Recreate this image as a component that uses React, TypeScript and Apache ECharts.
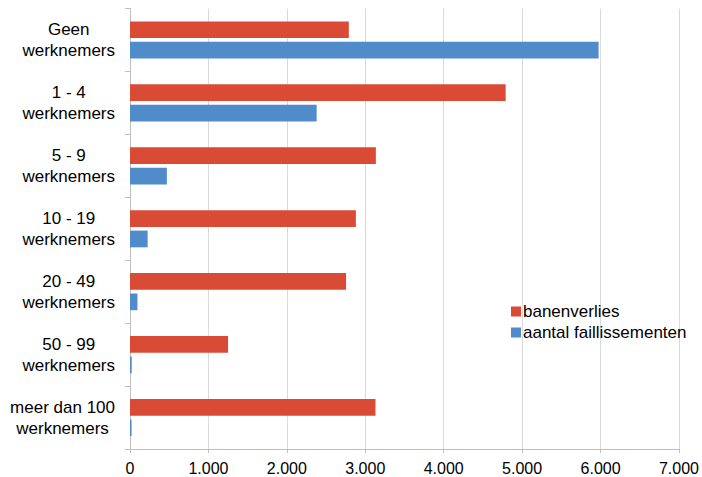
import React, { useEffect, useRef } from "react";
import * as echarts from "echarts";

const categories = [
  "Geen\nwerknemers",
  "1 - 4\nwerknemers",
  "5 - 9\nwerknemers",
  "10 - 19\nwerknemers",
  "20 - 49\nwerknemers",
  "50 - 99\nwerknemers",
  "meer dan 100\nwerknemers",
];
const banenverlies = [2790, 4790, 3135, 2880, 2755, 1250, 3130];
const faillissementen = [5975, 2380, 470, 225, 95, 22, 20];
const xTicks = [0, 1000, 2000, 3000, 4000, 5000, 6000, 7000];

const FONT = "'Liberation Sans', Arial, sans-serif";

export default function App() {
  const ref = useRef<HTMLDivElement>(null);
  useEffect(() => {
    if (!ref.current) return;
    const chart = echarts.init(ref.current, undefined, { renderer: "svg" });
    chart.setOption({
      animation: false,
      backgroundColor: "#ffffff",
      textStyle: { fontFamily: FONT, color: "#000" },
      grid: { left: 130, right: 23, top: 8.5, bottom: 28, containLabel: false },
      legend: {
        orient: "vertical",
        left: 506,
        top: 298,
        itemWidth: 10,
        itemHeight: 10,
        itemGap: 4,
        icon: "rect",
        data: ["banenverlies", "aantal faillissementen"],
        textStyle: { fontFamily: FONT, fontSize: 17, color: "#000", padding: [0, 0, 0, -3] },
      },
      xAxis: {
        type: "value",
        min: xTicks[0],
        max: xTicks[xTicks.length - 1],
        interval: 1000,
        axisLine: { show: true, lineStyle: { color: "#BFBFBF", width: 1 } },
        axisTick: { show: true, length: 4, lineStyle: { color: "#BFBFBF" } },
        splitLine: { show: true, lineStyle: { color: "#D9D9D9", width: 1 } },
        axisLabel: {
          fontFamily: FONT,
          fontSize: 16,
          color: "#000",
          margin: 11,
          formatter: (v: number) => (v === 0 ? "0" : `${v / 1000}.000`),
        },
      },
      yAxis: {
        type: "category",
        data: categories,
        inverse: true,
        axisLine: { show: true, lineStyle: { color: "#BFBFBF", width: 1 } },
        axisTick: { show: true, length: 5, lineStyle: { color: "#BFBFBF" } },
        axisLabel: {
          align: "right",
          margin: 15,
          formatter: (v: string) =>
            v
              .split("\n")
              .map((s) => `{a|${s}}`)
              .join("\n"),
          rich: {
            a: {
              align: "center",
              fontFamily: FONT,
              fontSize: 17,
              lineHeight: 21,
              color: "#000",
            },
          },
        },
      },
      series: [
        {
          name: "banenverlies",
          type: "bar",
          data: banenverlies,
          barCategoryGap: "41%",
          barGap: "22%",
          itemStyle: { color: "#D94B35" },
        },
        {
          name: "aantal faillissementen",
          type: "bar",
          data: faillissementen,
          itemStyle: { color: "#508BCA" },
        },
      ],
    });
    return () => chart.dispose();
  }, []);
  return <div ref={ref} style={{ width: 702, height: 477, position: "absolute", left: 0, top: 0 }} />;
}
